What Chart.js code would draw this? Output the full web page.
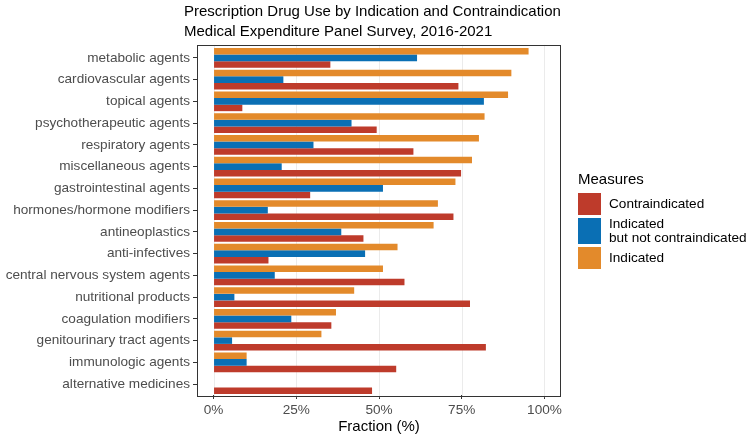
<!DOCTYPE html>
<html>
<head>
<meta charset="utf-8">
<script src="https://cdn.jsdelivr.net/npm/chart.js@4"></script>
<style>
  body { margin: 0; background: #fff; font-family: "Liberation Sans", Arial, sans-serif; }
  #wrap { position: relative; width: 750px; height: 436px; overflow: hidden; }
  #titulo { position: absolute; left: 184px; top: 1px; font-size: 15px; line-height: 20px; color: #000; white-space: nowrap; }
  #legenda { position: absolute; left: 578px; top: 170px; color: #000; white-space: nowrap; }
  #legenda .tit { font-size: 15px; line-height: 17px; margin-bottom: 6px; }
  #legenda .item { display: flex; align-items: center; font-size: 13.6px; line-height: 14px; }
  #legenda .cx { width: 23px; margin-right: 8px; flex: none; }
</style>
</head>
<body>
<div id="wrap">
  <canvas id="grafico" width="750" height="436"></canvas>
  <div id="titulo">Prescription Drug Use by Indication and Contraindication<br>Medical Expenditure Panel Survey, 2016-2021</div>
  <div id="legenda">
    <div class="tit">Measures</div>
    <div class="item"><div class="cx" style="height:22px;background:#BE3B2B"></div>Contraindicated</div>
    <div class="item" style="margin-top:2px"><div class="cx" style="height:26px;background:#0A6FB4"></div>Indicated<br>but not contraindicated</div>
    <div class="item" style="margin-top:2px"><div class="cx" style="height:22px;background:#E38A2B"></div>Indicated</div>
  </div>
</div>
<script>
// Dados (percentuais)
const categorias = [
  'metabolic agents', 'cardiovascular agents', 'topical agents', 'psychotherapeutic agents',
  'respiratory agents', 'miscellaneous agents', 'gastrointestinal agents', 'hormones/hormone modifiers',
  'antineoplastics', 'anti-infectives', 'central nervous system agents', 'nutritional products',
  'coagulation modifiers', 'genitourinary tract agents', 'immunologic agents', 'alternative medicines'
];
const indicado = [95.2, 90.0, 89.0, 81.9, 80.2, 78.1, 73.1, 67.8, 66.5, 55.6, 51.2, 42.5, 37.0, 32.6, 10.0, 0];
const indicadoNaoContra = [61.5, 21.1, 81.7, 41.7, 30.2, 20.6, 51.2, 16.4, 38.6, 45.8, 18.5, 6.3, 23.5, 5.6, 10.0, 0];
const contraindicado = [35.3, 74.0, 8.7, 49.3, 60.4, 74.8, 29.2, 72.5, 45.3, 16.6, 57.7, 77.5, 35.6, 82.3, 55.2, 47.9];
const ticksX = [0, 25, 50, 75, 100];

// Painel no estilo ggplot: grade vertical e borda
const painel = {
  id: 'painel',
  beforeDatasetsDraw(chart) {
    const { ctx, chartArea: a, scales } = chart;
    const ext = (a.bottom - a.top) / 16 * 0.1;
    ctx.save();
    ctx.strokeStyle = '#ebebeb';
    ctx.lineWidth = 1;
    ticksX.forEach(v => {
      const x = Math.round(scales.x.getPixelForValue(v)) + 0.5;
      ctx.beginPath();
      ctx.moveTo(x, a.top - ext);
      ctx.lineTo(x, a.bottom + ext);
      ctx.stroke();
    });
    ctx.restore();
  },
  afterDatasetsDraw(chart) {
    const { ctx, chartArea: a } = chart;
    const ext = (a.bottom - a.top) / 16 * 0.1;
    ctx.save();
    ctx.strokeStyle = '#333333';
    ctx.lineWidth = 1;
    ctx.strokeRect(Math.round(a.left) + 0.5, Math.round(a.top - ext) + 0.5,
      Math.round(a.right - a.left) - 1, Math.round(a.bottom - a.top + 2 * ext) - 1);
    ctx.restore();
  }
};

new Chart(document.getElementById('grafico'), {
  type: 'bar',
  data: {
    labels: categorias,
    datasets: [
      { label: 'Indicated', data: indicado, backgroundColor: '#E38A2B' },
      { label: 'Indicated but not contraindicated', data: indicadoNaoContra, backgroundColor: '#0A6FB4' },
      { label: 'Contraindicated', data: contraindicado, backgroundColor: '#BE3B2B' }
    ]
  },
  options: {
    indexAxis: 'y',
    responsive: false,
    animation: false,
    datasets: { bar: { categoryPercentage: 0.9, barPercentage: 1.0 } },
    layout: { padding: { top: 47, right: 189, bottom: 0, left: 0 } },
    plugins: {
      legend: { display: false },
      title: { display: false },
      tooltip: { enabled: false }
    },
    scales: {
      x: {
        min: -5,
        max: 105,
        afterBuildTicks: scale => { scale.ticks = ticksX.map(v => ({ value: v })); },
        afterFit: scale => { scale.height = 41; },
        grid: { drawOnChartArea: false, drawTicks: true, tickLength: 4, tickColor: '#333333' },
        border: { display: false },
        ticks: {
          color: '#4d4d4d',
          font: { family: 'Liberation Sans', size: 13.6 },
          padding: 3,
          maxRotation: 0,
          callback: v => v + '%'
        },
        title: {
          display: true,
          text: 'Fraction (%)',
          color: '#000',
          font: { family: 'Liberation Sans', size: 15 },
          padding: { top: 0, bottom: 0 }
        }
      },
      y: {
        afterFit: scale => { scale.width = 197; },
        grid: { offset: false, drawOnChartArea: false, drawTicks: true, tickLength: 4, tickColor: '#333333' },
        border: { display: false },
        ticks: {
          color: '#4d4d4d',
          font: { family: 'Liberation Sans', size: 13.6 },
          padding: 3,
          autoSkip: false
        }
      }
    }
  },
  plugins: [painel]
});
</script>
</body>
</html>
